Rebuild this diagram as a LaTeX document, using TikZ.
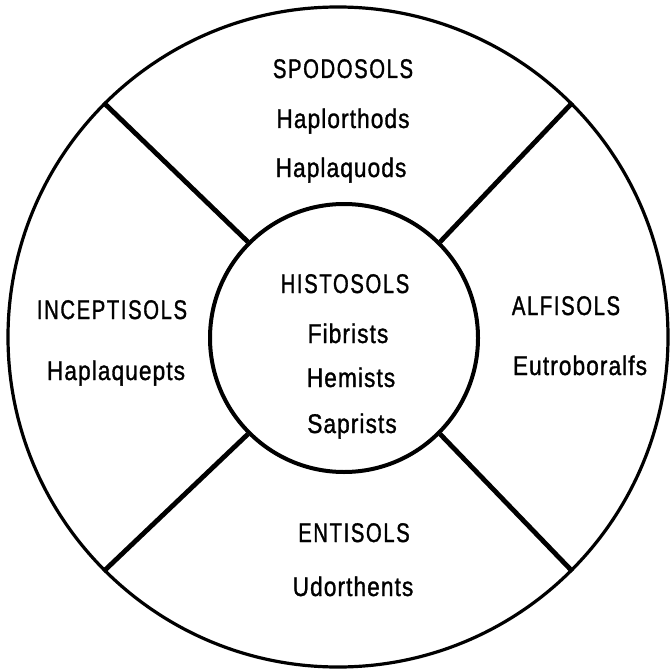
\documentclass[tikz,border=0pt]{standalone}
\usepackage{fontspec}
\setmainfont[FakeStretch=0.84,FakeBold=1.2,LetterSpace=4]{Liberation Sans}
\newfontfamily\capsf[FakeStretch=0.75,FakeBold=1.2,LetterSpace=6]{Liberation Sans}
\begin{document}
\begin{tikzpicture}[x=1pt,y=-1pt,
  ring/.style={draw=black,circle,inner sep=0pt},
  divider/.style={draw=black,line width=4.8pt},
  lbl/.style={anchor=base,inner sep=0pt,font=\fontsize{27}{32}\selectfont},
  caplbl/.style={lbl,font=\capsf\fontsize{27}{32}\selectfont}]
\useasboundingbox (0,0) rectangle (669,671);
\node[ring,line width=3.2pt,minimum size=660pt] (out) at (338,337) {};
\node[ring,line width=4pt,minimum size=268pt] (in) at (344,338) {};
\draw[divider] (in.135) -- (out.135);
\draw[divider] (in.45) -- (out.45);
\draw[divider] (in.225) -- (out.225);
\draw[divider] (in.315) -- (out.315);
% top
\node[caplbl] (spo) at (343,78) {SPODOSOLS};
\node[lbl] (hor) at (343,128) {Haplorthods};
\node[lbl] (haq) at (341,177) {Haplaquods};
% center
\node[caplbl] (his) at (345,293) {HISTOSOLS};
\node[lbl] (fib) at (348,343) {Fibrists};
\node[lbl] (hem) at (351,387) {Hemists};
\node[lbl] (sap) at (352,433) {Saprists};
% left
\node[caplbl] (inc) at (112,319) {INCEPTISOLS};
\node[lbl] (hqe) at (116,380) {Haplaquepts};
% right
\node[caplbl] (alf) at (566,315) {ALFISOLS};
\node[lbl] (eut) at (580,375) {Eutroboralfs};
% bottom
\node[caplbl] (ent) at (354,542) {ENTISOLS};
\node[lbl] (udo) at (353,596) {Udorthents};
\end{tikzpicture}
\end{document}
